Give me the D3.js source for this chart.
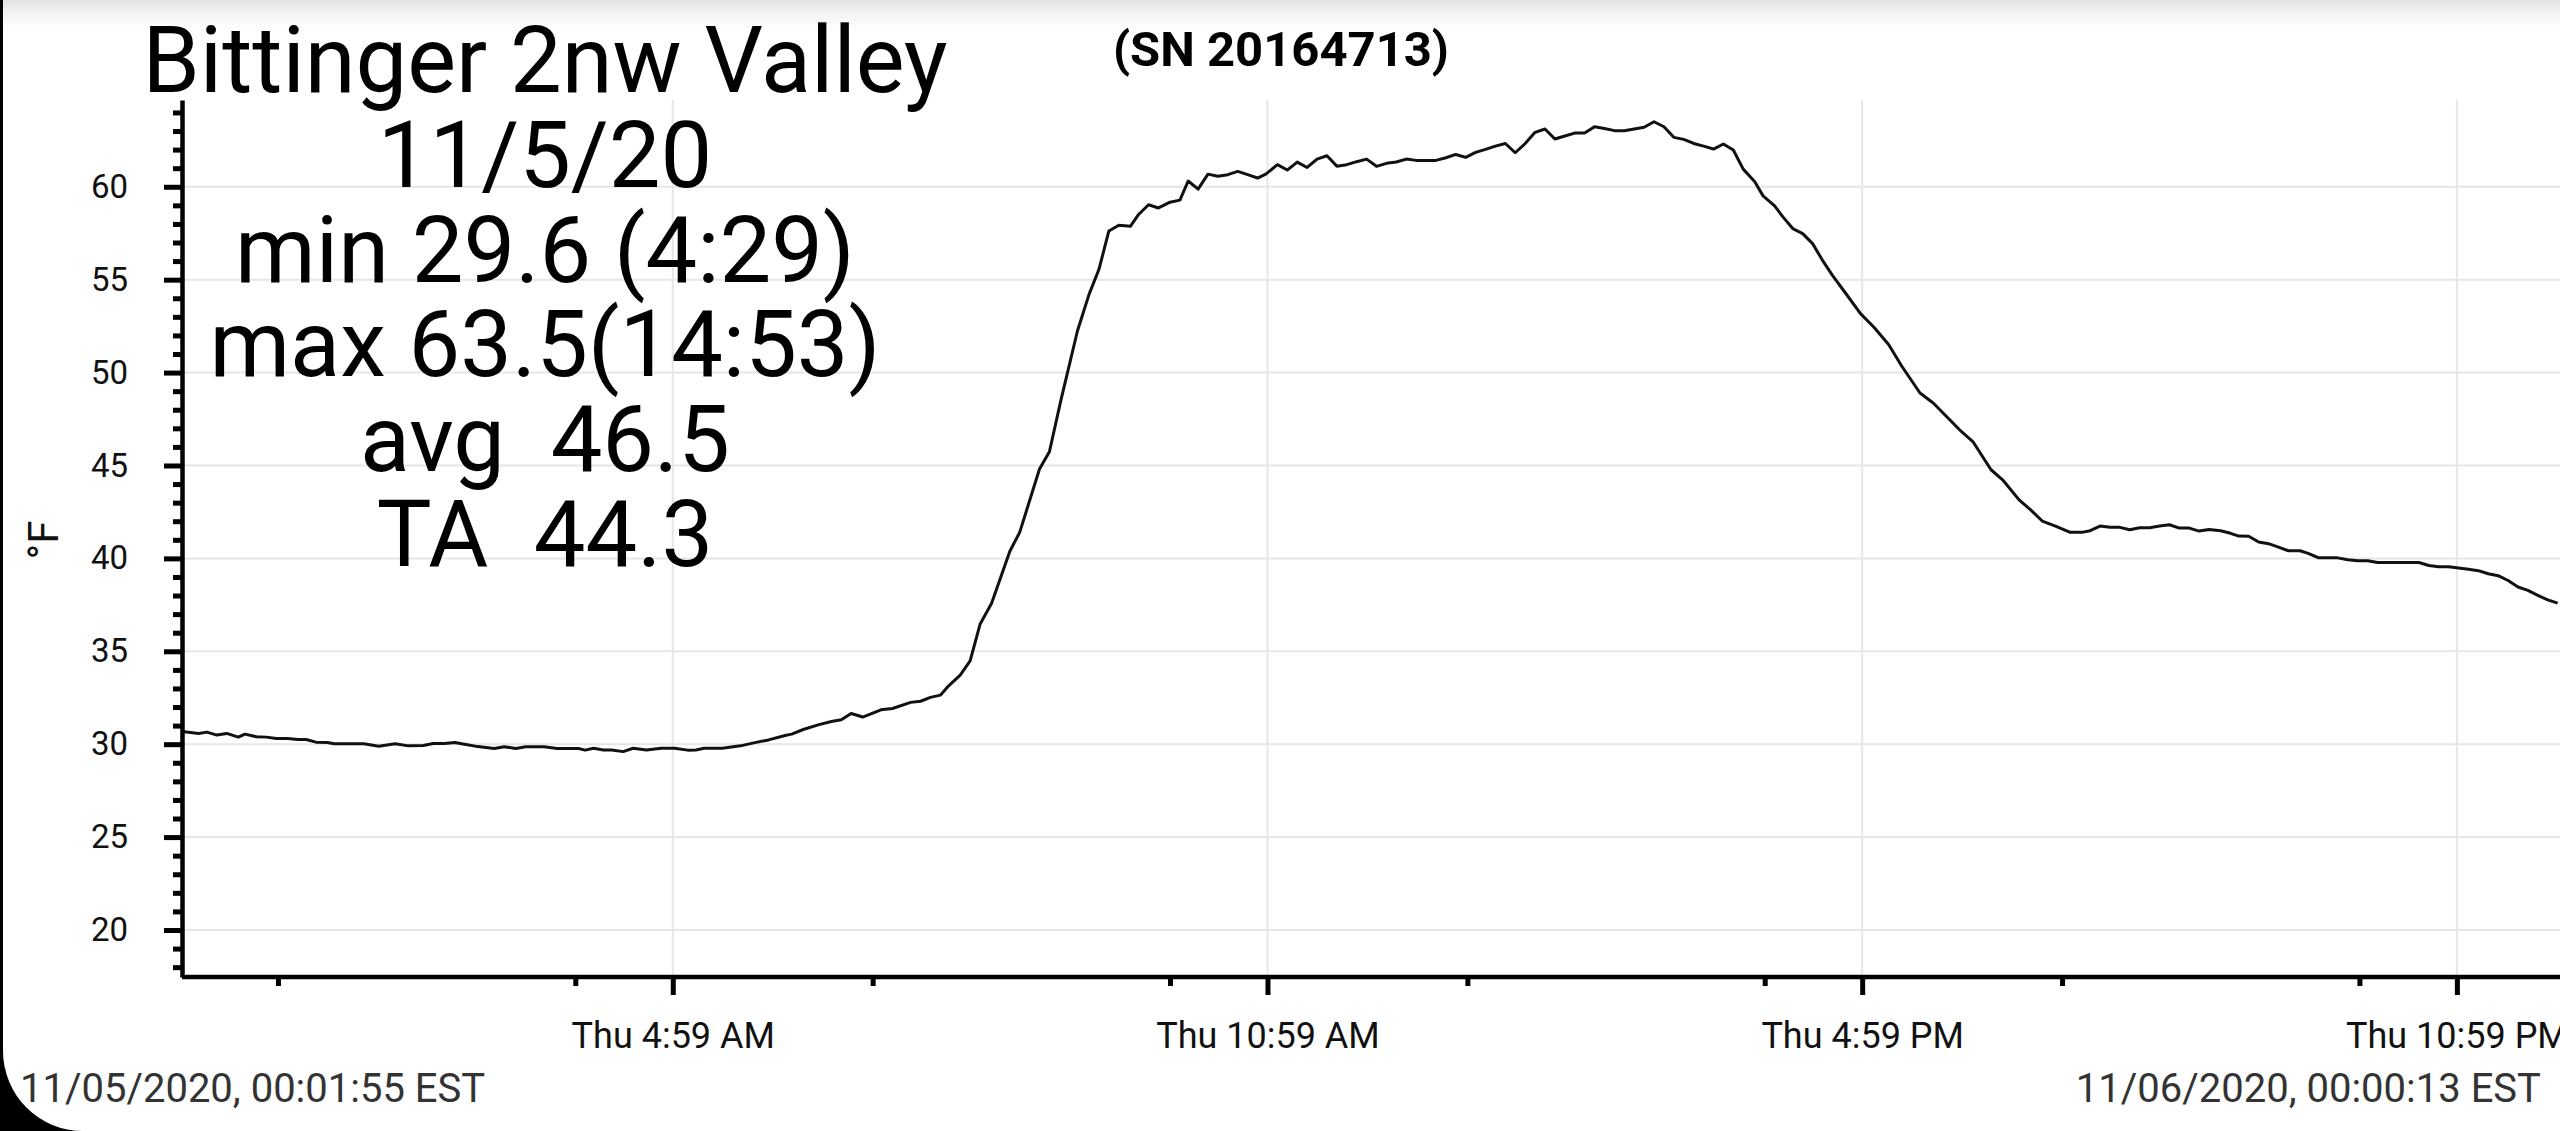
<!DOCTYPE html>
<html>
<head>
<meta charset="utf-8">
<script src="https://cdn.jsdelivr.net/npm/d3@7"></script>
<style>
    body { margin: 0; background: #000; overflow: hidden; }
    text { font-family: Roboto, "Noto Sans", sans-serif; }
</style>
</head>
<body>
<svg class="TempChart"></svg>
<script>
// Readings for 11/5/20 (local time "H:MM", °F)
const times = [
    "0:02", "0:12", "0:17", "0:23", "0:29", "0:36", "0:40", "0:47", "0:53", "0:59",
    "1:06", "1:12", "1:17", "1:23", "1:30", "1:34", "1:52", "2:01", "2:11", "2:19",
    "2:28", "2:34", "2:41", "2:47", "2:53", "3:01", "3:11", "3:17", "3:24", "3:30",
    "3:41", "3:49", "4:02", "4:06", "4:11", "4:17", "4:22", "4:29", "4:35", "4:43",
    "4:52", "5:00", "5:08", "5:13", "5:18", "5:29", "5:40", "5:48", "5:57", "6:07",
    "6:11", "6:18", "6:27", "6:35", "6:41", "6:47", "6:54", "7:05", "7:12", "7:23",
    "7:29", "7:35", "7:41", "7:46", "7:53", "7:59", "8:05", "8:12", "8:23", "8:29",
    "8:41", "8:47", "8:54", "9:04", "9:11", "9:17", "9:23", "9:29", "9:36", "9:41",
    "9:47", "9:53", "10:00", "10:06", "10:11", "10:17", "10:23", "10:29", "10:35", "10:41",
    "10:47", "10:53", "10:58", "11:05", "11:11", "11:17", "11:23", "11:29", "11:35", "11:41",
    "11:47", "11:53", "11:59", "12:05", "12:11", "12:17", "12:23", "12:29", "12:41", "12:47",
    "12:53", "12:59", "13:05", "13:11", "13:17", "13:23", "13:29", "13:35", "13:41", "13:47",
    "13:53", "13:59", "14:05", "14:11", "14:17", "14:23", "14:29", "14:35", "14:41", "14:47",
    "14:53", "14:59", "15:05", "15:11", "15:17", "15:23", "15:29", "15:35", "15:41", "15:47",
    "15:54", "15:59", "16:06", "16:11", "16:17", "16:23", "16:29", "16:35", "16:41", "16:48",
    "16:58", "17:06", "17:15", "17:23", "17:34", "17:42", "17:52", "17:59", "18:06", "18:17",
    "18:24", "18:34", "18:41", "18:48", "18:56", "19:05", "19:12", "19:17", "19:23", "19:29",
    "19:35", "19:41", "19:47", "19:53", "19:59", "20:05", "20:11", "20:17", "20:23", "20:29",
    "20:36", "20:42", "20:47", "20:53", "20:59", "21:05", "21:11", "21:17", "21:24", "21:29",
    "21:35", "21:46", "21:53", "21:59", "22:05", "22:11", "22:24", "22:36", "22:42", "22:48",
    "22:54", "23:00", "23:06", "23:12", "23:18", "23:24", "23:30", "23:36", "23:42", "23:48",
    "23:54", "24:00"
];
const temps = [
    30.68, 30.58, 30.65, 30.49, 30.58, 30.38, 30.54, 30.40, 30.38, 30.31,
    30.31, 30.25, 30.25, 30.11, 30.09, 30.02, 30.02, 29.89, 30.02, 29.91,
    29.93, 30.04, 30.04, 30.09, 30.00, 29.87, 29.77, 29.86, 29.77, 29.86,
    29.86, 29.77, 29.77, 29.68, 29.78, 29.69, 29.69, 29.60, 29.78, 29.69,
    29.78, 29.78, 29.68, 29.69, 29.78, 29.78, 29.91, 30.07, 30.23, 30.47,
    30.54, 30.79, 31.04, 31.22, 31.31, 31.65, 31.46, 31.85, 31.92, 32.25,
    32.31, 32.52, 32.64, 33.14, 33.72, 34.48, 36.45, 37.58, 40.37, 41.40,
    44.81, 45.74, 48.53, 52.25, 54.21, 55.56, 57.62, 57.93, 57.87, 58.51,
    59.03, 58.86, 59.17, 59.28, 60.31, 59.87, 60.68, 60.57, 60.65, 60.83,
    60.65, 60.47, 60.68, 61.19, 60.90, 61.33, 61.04, 61.49, 61.67, 61.11,
    61.19, 61.35, 61.49, 61.10, 61.26, 61.33, 61.49, 61.42, 61.42, 61.56,
    61.74, 61.58, 61.85, 62.01, 62.19, 62.33, 61.83, 62.33, 62.93, 63.11,
    62.57, 62.73, 62.89, 62.89, 63.23, 63.14, 63.02, 63.02, 63.11, 63.20,
    63.50, 63.23, 62.66, 62.55, 62.33, 62.19, 62.03, 62.30, 61.98, 60.95,
    60.27, 59.51, 58.97, 58.38, 57.75, 57.48, 56.94, 56.04, 55.23, 54.39,
    53.17, 52.45, 51.51, 50.34, 48.90, 48.36, 47.46, 46.83, 46.29, 44.77,
    44.23, 43.15, 42.61, 42.01, 41.74, 41.40, 41.40, 41.49, 41.74, 41.67,
    41.67, 41.54, 41.65, 41.65, 41.74, 41.81, 41.63, 41.63, 41.47, 41.56,
    41.49, 41.35, 41.20, 41.19, 40.88, 40.79, 40.61, 40.41, 40.41, 40.27,
    40.04, 40.04, 39.93, 39.87, 39.87, 39.78, 39.78, 39.78, 39.62, 39.55,
    39.55, 39.48, 39.41, 39.34, 39.17, 39.07, 38.81, 38.46, 38.28, 38.01,
    37.77, 37.59
];

// Axis ticks
const yMajorTicks = [20, 25, 30, 35, 40, 45, 50, 55, 60];
const xMajorTimes = ["4:59", "10:59", "16:59", "22:59"];
const xMajorLabels = ["Thu 4:59 AM", "Thu 10:59 AM", "Thu 4:59 PM", "Thu 10:59 PM"];
const xMinorHours = [1, 4, 7, 10, 13, 16, 19, 22];

// Text
const statsLines = ["Bittinger 2nw Valley", "11/5/20", "min 29.6 (4:29)", "max 63.5(14:53)", "avg  46.5", "TA  44.3"];
const serialLabel = "(SN 20164713)";
const unitLabel = "°F";
const startLabel = "11/05/2020, 00:01:55 EST";
const endLabel = "11/06/2020, 00:00:13 EST";
const rangeStart = "0:01:55", rangeEnd = "24:00:13";

function toDate(s) {
    const p = s.split(":").map(Number);
    return new Date(2020, 10, 5, p[0], p[1], p[2] || 0);
}

function makeChart(data) {
    const svgWidth = 2560,
        svgHeight = 1131;
    const plot = { left: 182, right: 2558, top: 100, bottom: 977 };

    const canvas = d3.select(".TempChart")
        .attr("width", svgWidth)
        .attr("height", svgHeight);

    // Card background (black frame, rounded bottom-left)
    canvas.append("rect")
        .attr("width", svgWidth).attr("height", svgHeight)
        .attr("fill", "#000");
    canvas.append("path")
        .attr("d", `M3,0 H${svgWidth} V${svgHeight} H83 A80,80 0 0 1 3,${svgHeight - 80} Z`)
        .attr("fill", "#fff");

    const grad = canvas.append("defs").append("linearGradient")
        .attr("id", "topShade").attr("x1", 0).attr("y1", 0).attr("x2", 0).attr("y2", 1);
    grad.append("stop").attr("offset", "0%").attr("stop-color", "#e2e2e2");
    grad.append("stop").attr("offset", "100%").attr("stop-color", "#fff").attr("stop-opacity", 0);
    canvas.append("rect")
        .attr("x", 3).attr("width", svgWidth - 3).attr("height", 38)
        .attr("fill", "url(#topShade)");

    // Scales
    const x = d3.scaleTime()
        .domain([toDate(rangeStart), toDate(rangeEnd)])
        .range([plot.left, plot.right]);

    const y = d3.scaleLinear()
        .domain([17.47, 64.67])
        .range([plot.bottom, plot.top]);

    const xMajor = xMajorTimes.map(toDate);
    const xMinor = xMinorHours.map(h => new Date(2020, 10, 5, h, 0));

    // Grid
    canvas.append("g")
        .selectAll("line")
        .data(yMajorTicks)
        .enter().append("line")
        .attr("x1", plot.left).attr("x2", svgWidth)
        .attr("y1", d => y(d)).attr("y2", d => y(d))
        .attr("stroke", "#e6e6e6").attr("stroke-width", 2);

    canvas.append("g")
        .selectAll("line")
        .data(xMajor)
        .enter().append("line")
        .attr("x1", d => x(d)).attr("x2", d => x(d))
        .attr("y1", plot.top).attr("y2", plot.bottom)
        .attr("stroke", "#e6e6e6").attr("stroke-width", 2);

    // Temperature line
    const line = d3.line()
        .x(d => x(d.time))
        .y(d => y(d.temp));

    canvas.append("path")
        .datum(data)
        .attr("fill", "none")
        .attr("stroke", "#111")
        .attr("stroke-width", 3)
        .attr("stroke-linejoin", "round")
        .attr("d", line);

    // Axes
    const yMinor = d3.range(18, 65).filter(v => v % 5 !== 0);

    const yMinorAxis = canvas.append("g")
        .attr("transform", `translate(${plot.left},0)`)
        .call(d3.axisLeft(y).tickValues(yMinor).tickSize(9).tickFormat(""));
    yMinorAxis.select(".domain").remove();

    const yAxis = canvas.append("g")
        .attr("transform", `translate(${plot.left},0)`)
        .call(d3.axisLeft(y).tickValues(yMajorTicks).tickSize(18).tickSizeOuter(0).tickPadding(36));

    const xMinorAxis = canvas.append("g")
        .attr("transform", `translate(0,${plot.bottom})`)
        .call(d3.axisBottom(x).tickValues(xMinor).tickSize(9).tickFormat(""));
    xMinorAxis.select(".domain").remove();

    const xAxis = canvas.append("g")
        .attr("transform", `translate(0,${plot.bottom})`)
        .call(d3.axisBottom(x).tickValues(xMajor).tickSize(18).tickSizeOuter(0)
            .tickFormat((d, i) => xMajorLabels[i]));
    xAxis.select(".domain").attr("d", `M${plot.left},0H${svgWidth}`);

    [yMinorAxis, yAxis, xMinorAxis, xAxis].forEach(g => {
        g.selectAll("line").attr("stroke", "#000").attr("stroke-width", 5);
        g.select(".domain").attr("stroke", "#000").attr("stroke-width", 4.5);
    });

    yAxis.selectAll("text")
        .attr("fill", "#111")
        .style("font-size", "33px");

    xAxis.selectAll("text")
        .attr("y", 71).attr("dy", null)
        .attr("fill", "#111")
        .style("font-size", "36px");

    // Axis label
    canvas.append("text")
        .attr("transform", "translate(58,540) rotate(-90)")
        .attr("text-anchor", "middle")
        .attr("fill", "#111")
        .style("font-size", "42px")
        .text(unitLabel);

    // Station block
    canvas.append("g")
        .selectAll("text")
        .data(statsLines)
        .enter().append("text")
        .attr("x", 545)
        .attr("y", (d, i) => 92 + i * 94.8)
        .attr("text-anchor", "middle")
        .attr("fill", "#000")
        .style("font-size", "92px")
        .style("white-space", "pre")
        .text(d => d);

    canvas.append("text")
        .attr("x", 1281).attr("y", 66)
        .attr("text-anchor", "middle")
        .attr("fill", "#000")
        .style("font-size", "49px")
        .style("font-weight", "bold")
        .text(serialLabel);

    // Range labels
    canvas.append("text")
        .attr("x", 20).attr("y", 1102)
        .attr("fill", "#333")
        .style("font-size", "40px")
        .text(startLabel);

    canvas.append("text")
        .attr("x", 2541).attr("y", 1102)
        .attr("text-anchor", "end")
        .attr("fill", "#333")
        .style("font-size", "40px")
        .text(endLabel);
}

const readings = times.map((t, i) => ({ time: toDate(t), temp: temps[i] }));

document.addEventListener('DOMContentLoaded', () => {
    makeChart(readings);
});
</script>
</body>
</html>
